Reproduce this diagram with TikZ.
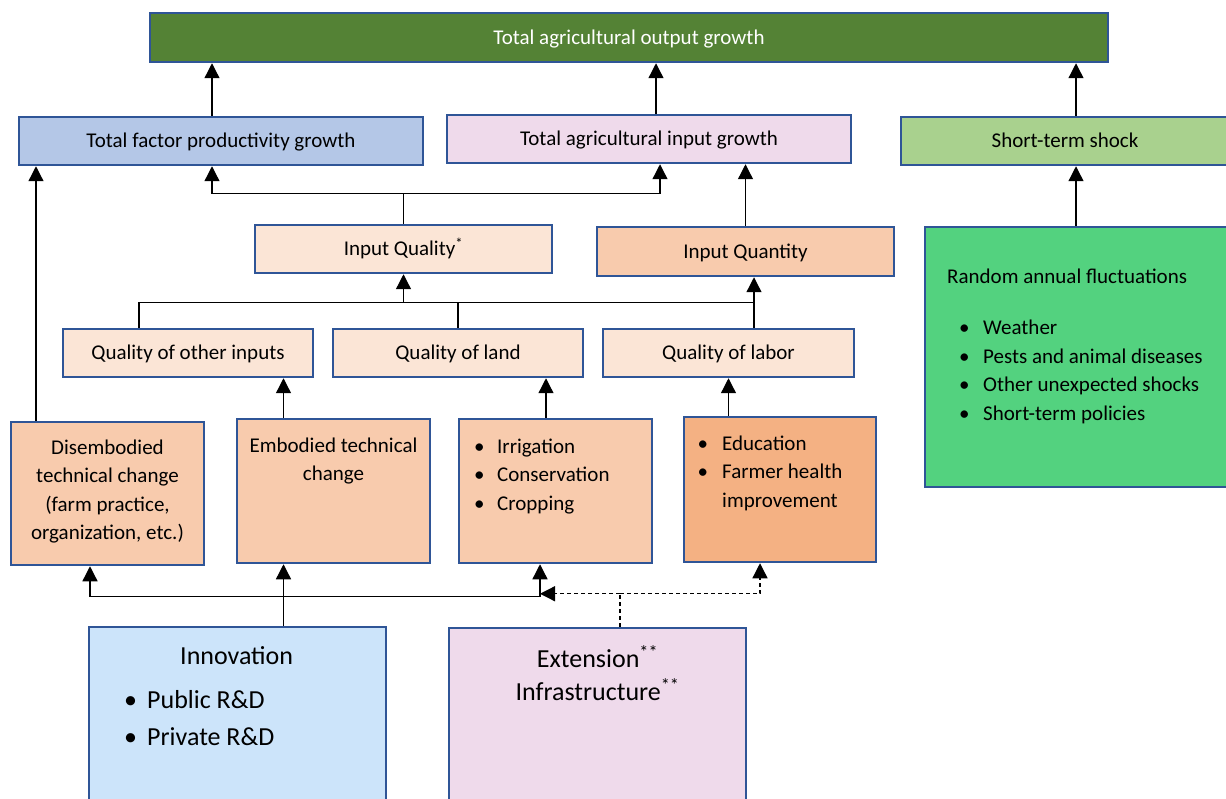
\documentclass[tikz,border=0pt]{standalone}
\usepackage{fontspec}
\setmainfont{Carlito}
\usetikzlibrary{arrows.meta,positioning}

\definecolor{outgreen}{HTML}{548235}
\definecolor{boxline}{HTML}{2F5597}
\definecolor{tfpblue}{HTML}{B4C7E7}
\definecolor{inpink}{HTML}{EFDAEB}
\definecolor{shockgreen}{HTML}{A9D18E}
\definecolor{randgreen}{HTML}{53D27F}
\definecolor{peachlt}{HTML}{FBE5D6}
\definecolor{peach}{HTML}{F8CBAD}
\definecolor{orangebox}{HTML}{F4B183}
\definecolor{innblue}{HTML}{CCE4FA}

\tikzset{
  blk/.style={draw=boxline, line width=2.5pt, inner sep=0pt,
    text height=15.6pt, text depth=2pt,
    font=\fontsize{21}{28.5}\selectfont},
  txt/.style={inner sep=0pt, font=\fontsize{21}{28.5}\selectfont},
  bigtxt/.style={inner sep=0pt, font=\fontsize{26}{33}\selectfont},
  pln/.style={line width=1.3pt},
  tip/.style={-{Triangle[width=15pt,length=15pt]}},
  lnk/.style={pln, tip},
  dsh/.style={line width=1.3pt, dash pattern=on 4pt off 3pt},
}
\newcommand{\bulpt}[1]{\makebox[#1][l]{\textbullet}}
\newcommand{\firstln}{\rule{0pt}{16pt}}
\newcommand{\firstbig}{\rule{0pt}{20pt}}

\begin{document}
\begin{tikzpicture}[x=1pt,y=-1pt]
\useasboundingbox (0,0) rectangle (1226,799);
\clip (0,0) rectangle (1226,799);

% growth row
\node[blk, fill=outgreen, text=white, minimum width=958pt, minimum height=49pt] (out) at (629,37.5) {Total agricultural output growth};
\node[blk, fill=tfpblue, minimum width=404pt, minimum height=48pt] (tfp) at (221,141) {Total factor productivity growth};
\node[blk, fill=inpink, minimum width=404pt, minimum height=48pt] (tig) at (649,139) {Total agricultural input growth};
\node[blk, fill=shockgreen, minimum width=328pt, minimum height=48pt] (sts) at (1065,141) {Short-term shock};

% input quality and quantity
\node[blk, fill=peachlt, minimum width=297pt, minimum height=48pt] (iql) at (403.5,249) {Input Quality\textsuperscript{*}};
\node[blk, fill=peach, minimum width=297pt, minimum height=49pt] (iqn) at (745.5,251.5) {Input Quantity};
\node[blk, fill=randgreen, minimum width=304pt, minimum height=260pt] (rnd) at (1077,357) {};
\node[txt, align=left, anchor=north west] (rndT) at (947,267.8) {\firstln Random annual fluctuations\\[22.5pt]
  \hspace*{12pt}\bulpt{24pt}Weather\\
  \hspace*{12pt}\bulpt{24pt}Pests and animal diseases\\
  \hspace*{12pt}\bulpt{24pt}Other unexpected shocks\\
  \hspace*{12pt}\bulpt{24pt}Short-term policies};

\node[blk, fill=peachlt, minimum width=250pt, minimum height=48pt] (qoi) at (188,353) {Quality of other inputs};
\node[blk, fill=peachlt, minimum width=250pt, minimum height=48pt] (qld) at (458,353) {Quality of land};
\node[blk, fill=peachlt, minimum width=251pt, minimum height=48pt] (qlb) at (728.5,353) {Quality of labor};

% sources
\node[blk, fill=peach, minimum width=193pt, minimum height=143pt] (dis) at (107.5,493.5) {};
\node[blk, fill=peach, minimum width=193pt, minimum height=144pt] (emb) at (333.5,491) {};
\node[blk, fill=peach, minimum width=193pt, minimum height=144pt] (irr) at (555.5,491) {};
\node[blk, fill=orangebox, minimum width=192pt, minimum height=145pt] (edu) at (780,489.5) {};
\node[txt, align=center, anchor=north] (disT) at (107.5,437.8) {\firstln Disembodied\\technical change\\(farm practice,\\organization, etc.)};
\node[txt, align=center, anchor=north] (embT) at (333.5,435.8) {\firstln Embodied technical\\change};
\node[txt, align=left, anchor=north west] (irrT) at (474,436.8) {\firstln\bulpt{23pt}Irrigation\\\bulpt{23pt}Conservation\\\bulpt{23pt}Cropping};
\node[txt, align=left, anchor=north west] (eduT) at (697.5,433.8) {\firstln\bulpt{24.5pt}Education\\\bulpt{24.5pt}Farmer health\\\hspace*{24.5pt}improvement};

\node[blk, fill=innblue, minimum width=297pt, minimum height=204pt] (inn) at (237.5,729) {};
\node[blk, fill=inpink, minimum width=297pt, minimum height=204pt] (ext) at (597.5,730) {};
\node[bigtxt, font=\fontsize{26}{37}\selectfont, align=left, anchor=north west] (innT) at (124,644.4) {\firstbig\hspace*{56pt}Innovation\\[7pt]
  \bulpt{23pt}Public R\&D\\\bulpt{23pt}Private R\&D};
\node[bigtxt, align=center, anchor=north] (extT) at (597.5,645.4) {\firstbig Extension\textsuperscript{**}\\Infrastructure\textsuperscript{**}};

% connector points
\coordinate (ctfp) at ([xshift=-9pt]tfp.north);
\coordinate (ctig) at ([xshift=7pt]tig.north);
\coordinate (ctigq) at ([xshift=11pt]tig.south);
\coordinate (crnd) at ([xshift=-1pt]rnd.north);
\coordinate (cdis) at ([xshift=-71.5pt]dis.north);
\coordinate (cemb) at ([xshift=-50pt]emb.north);
\coordinate (cirr) at ([xshift=-9.5pt]irr.north);
\coordinate (cqoi) at ([xshift=-49pt]qoi.north);
\coordinate (cqlb) at ([xshift=25.5pt]qlb.north);
\coordinate (cdisb) at ([xshift=-17.5pt]dis.south);
\coordinate (cirrb) at ([xshift=-15.5pt]irr.south);
\coordinate (cedub) at ([xshift=-20pt]edu.south);
\coordinate (cext) at ([xshift=22.5pt]ext.north);

% into output growth
\draw[lnk] (ctfp) -- (ctfp |- out.south);
\draw[lnk] (ctig) -- (ctig |- out.south);
\draw[lnk] (crnd |- sts.north) -- (crnd |- out.south);
\draw[lnk] (crnd) -- (crnd |- sts.south);

% quality and quantity into growth
\path (iql.north) ++(0,-30) coordinate (jq);
\draw[pln] (iql.north) -- (jq);
\draw[lnk] (jq) -| (ctfp |- tfp.south);
\draw[lnk] (jq) -| (ctigq);
\draw[lnk] (iqn.north) -- (iqn.north |- tig.south);

% quality row
\path (iql.south) ++(0,28) coordinate (jr);
\draw[lnk] (jr) -- (iql.south);
\draw[pln] (cqoi) |- (cqlb |- jr);
\draw[pln] (qld.north) -- (qld.north |- jr);
\draw[lnk] (cqlb) -- (cqlb |- iqn.south);

% sources up
\draw[lnk] (cdis) -- (cdis |- tfp.south);
\draw[lnk] (cemb) -- (cemb |- qoi.south);
\draw[lnk] (cirr) -- (cirr |- qld.south);
\draw[lnk] (edu.north -| qlb.south) -- (qlb.south);

% innovation and extension
\path (cemb |- emb.south) ++(0,32) coordinate (ji);
\draw[lnk] (cemb |- inn.north) -- (cemb |- emb.south);
\draw[lnk] (ji) -| (cdisb);
\draw[lnk] (ji) -| (cirrb);
\path (cext) ++(0,-33) coordinate (je);
\draw[dsh] (cext) -- (je);
\draw[dsh, tip] (je) -- (cirrb |- je);
\draw[dsh, tip] (je) -| (cedub);
\end{tikzpicture}
\end{document}
